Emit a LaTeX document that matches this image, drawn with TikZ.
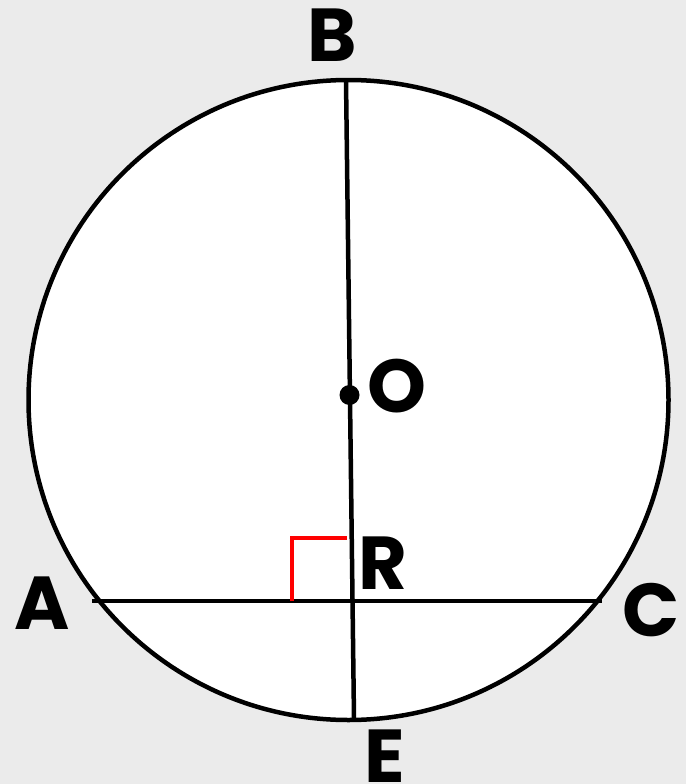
\documentclass[tikz,border=0pt]{standalone}
\usepackage{fontspec}
\setmainfont{Poppins}
\begin{document}
\begin{tikzpicture}[x=1pt,y=-1pt,
  ln/.style={line width=4.5pt,black},
  lbl/.style={font=\fontsize{75}{75}\selectfont\bfseries,inner sep=0pt,anchor=center}]
\fill[fill={rgb,255:red,235;green,235;blue,235}] (0,0) rectangle (686,784);
\useasboundingbox (0,0) rectangle (686,784);
\coordinate (Oc) at (348.5,400);
\fill[white] (Oc) circle[radius=320];
\draw[ln] (Oc) circle[radius=320];
\coordinate (B) at (346,80);
\coordinate (E) at (354,719);
\coordinate (A) at (92,601);
\coordinate (C) at (602,601);
\coordinate (P) at (292,601);
\coordinate (Q) at (292,538);
\coordinate (S) at (347,538);
\draw[ln] (B) -- (E);
\draw[ln] (A) -- (C);
\draw[red,line width=4.5pt] (P) -- (Q) -- (S);
\fill (349.5,395) circle[radius=10];
\node[lbl] (lB) at (332,35) {B};
\node[lbl] (lO) at (397,386) {O};
\node[lbl] (lR) at (383,563) {R};
\node[lbl] (lA) at (42,603) {A};
\node[lbl] (lC) at (651,610) {C};
\node[lbl] (lE) at (385,756) {E};
\end{tikzpicture}
\end{document}
